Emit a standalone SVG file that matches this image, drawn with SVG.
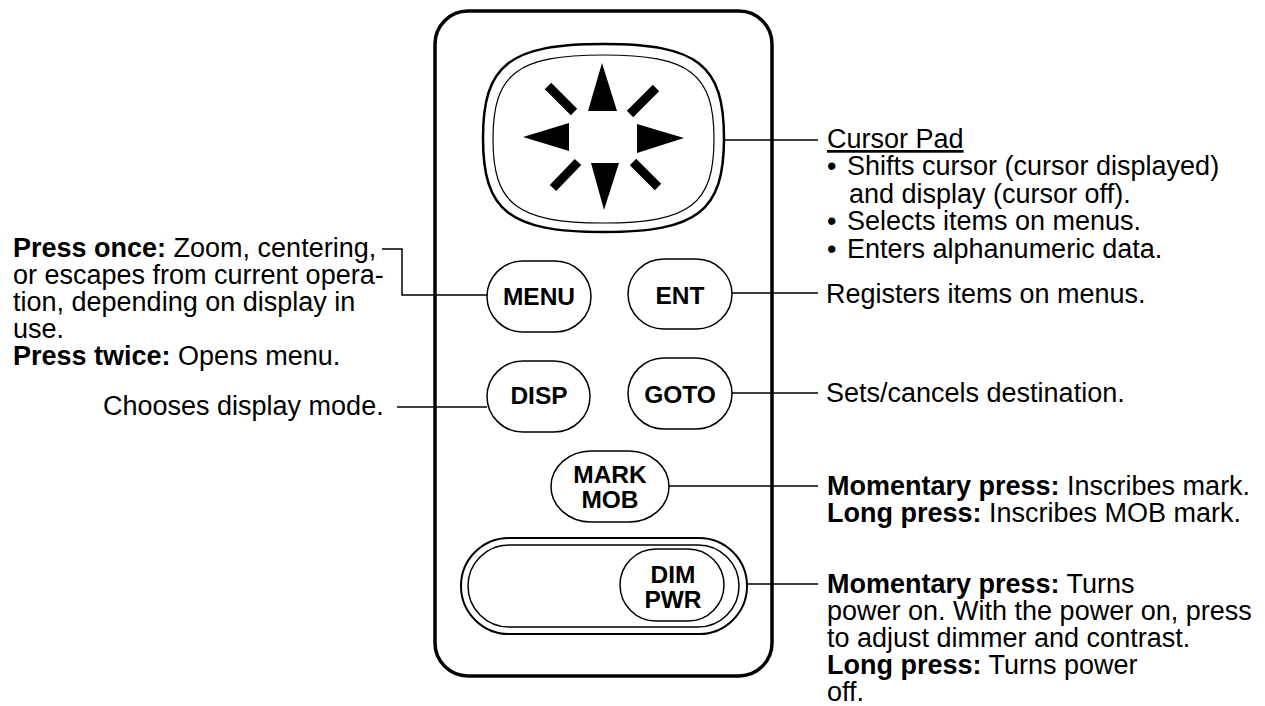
<svg xmlns="http://www.w3.org/2000/svg" width="1265" height="706" viewBox="0 0 1265 706">
<style>
text{font-family:"Liberation Sans",Arial,sans-serif;fill:#000}
.t{font-size:27px}
.b{font-weight:bold}
.btn{fill:#fff;stroke:#000;stroke-width:1.5}
.btxt{font-size:24.5px;font-weight:bold;text-anchor:middle}
.conn{fill:none;stroke:#000;stroke-width:1.5}
.bar{stroke:#000;stroke-width:9;stroke-linecap:butt}
</style>
<rect width="1265" height="706" fill="#fff"/>
<g id="body">
<rect x="435" y="11" width="337" height="665" rx="33" ry="33" fill="#fff" stroke="#000" stroke-width="3.5"/>
</g>
<g id="connectors">
<path class="conn" d="M724,140H818"/>
<path class="conn" d="M487,295H402V249H382"/>
<path class="conn" d="M732,293H818"/>
<path class="conn" d="M487,407H397"/>
<path class="conn" d="M732,393H818"/>
<path class="conn" d="M669,486H818"/>
<path class="conn" d="M747,584H818"/>
</g>
<g id="cursor-pad">
<path d="M724,138 C724,211.3 697.5,232 603.5,232 C509.5,232 483,211.3 483,138 C483,64.7 509.5,44 603.5,44 C697.5,44 724,64.7 724,138 Z" fill="#fff" stroke="#000" stroke-width="2.5"/>
<path d="M714,139 C714,204.5 689.7,223 603.5,223 C517.3,223 493,204.5 493,139 C493,73.5 517.3,55 603.5,55 C689.7,55 714,73.5 714,139 Z" fill="none" stroke="#000" stroke-width="1.2"/>
<polygon points="602,63 588,111 617,111"/>
<polygon points="591,163 619,163 604,210"/>
<polygon points="523,137 569,123 569,151"/>
<polygon points="637,124 637,153 684,138"/>
<line class="bar" x1="548" y1="86" x2="574" y2="112"/>
<line class="bar" x1="630" y1="114" x2="656" y2="88"/>
<line class="bar" x1="578" y1="162" x2="553" y2="188"/>
<line class="bar" x1="633" y1="162" x2="658" y2="187"/>
</g>
<g id="menu">
<rect class="btn" x="487" y="261" width="104" height="71" rx="36" ry="35.5"/>
<text class="btxt" x="539" y="305">MENU</text>
</g>
<g id="ent">
<rect class="btn" x="628" y="259" width="104" height="70" rx="36" ry="35"/>
<text class="btxt" x="680" y="304">ENT</text>
</g>
<g id="disp">
<rect class="btn" x="487" y="361" width="103" height="71" rx="36" ry="35.5"/>
<text class="btxt" x="539" y="404">DISP</text>
</g>
<g id="goto">
<rect class="btn" x="628" y="358" width="104" height="71" rx="36" ry="35.5"/>
<text class="btxt" x="680" y="403">GOTO</text>
</g>
<g id="mark-mob">
<rect class="btn" x="551" y="451" width="118" height="71" rx="40" ry="35.5"/>
<text class="btxt" x="610" y="483">MARK</text>
<text class="btxt" x="610" y="508">MOB</text>
</g>
<g id="dim-pwr">
<rect x="461" y="538" width="286" height="96" rx="48" ry="48" fill="#fff" stroke="#000" stroke-width="2"/>
<rect x="468" y="545" width="271" height="82" rx="41" ry="41" fill="none" stroke="#000" stroke-width="1.5"/>
<rect class="btn" x="620" y="549" width="104" height="72" rx="36" ry="36"/>
<text class="btxt" x="673" y="583">DIM</text>
<text class="btxt" x="673" y="608">PWR</text>
</g>
<g id="label-cursor-pad" class="t">
<text x="827" y="148" text-decoration="underline">Cursor Pad</text>
<text x="827" y="175">•</text><text x="847" y="175">Shifts cursor (cursor displayed)</text>
<text x="849" y="203">and display (cursor off).</text>
<text x="827" y="230">•</text><text x="847" y="230">Selects items on menus.</text>
<text x="827" y="258">•</text><text x="847" y="258">Enters alphanumeric data.</text>
</g>
<g id="label-menu" class="t">
<text x="13" y="257"><tspan class="b">Press once:</tspan> Zoom, centering,</text>
<text x="13" y="284">or escapes from current opera-</text>
<text x="13" y="311">tion, depending on display in</text>
<text x="13" y="338">use.</text>
<text x="13" y="365"><tspan class="b">Press twice:</tspan> Opens menu.</text>
</g>
<g id="label-disp" class="t">
<text x="103" y="415">Chooses display mode.</text>
</g>
<g id="label-ent" class="t">
<text x="826" y="303">Registers items on menus.</text>
</g>
<g id="label-goto" class="t">
<text x="826" y="402">Sets/cancels destination.</text>
</g>
<g id="label-mark" class="t">
<text x="827" y="495"><tspan class="b">Momentary press:</tspan> Inscribes mark.</text>
<text x="827" y="522"><tspan class="b">Long press:</tspan> Inscribes MOB mark.</text>
</g>
<g id="label-dim" class="t">
<text x="827" y="593"><tspan class="b">Momentary press:</tspan> Turns</text>
<text x="827" y="620">power on. With the power on, press</text>
<text x="827" y="647">to adjust dimmer and contrast.</text>
<text x="827" y="674"><tspan class="b">Long press:</tspan> Turns power</text>
<text x="827" y="701">off.</text>
</g>
</svg>
